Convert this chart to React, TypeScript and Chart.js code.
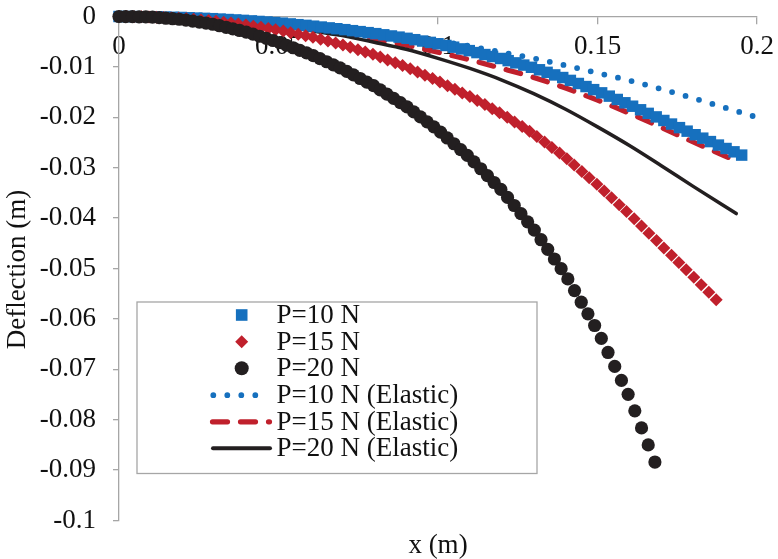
import React, { useEffect, useRef } from "react";
import { Chart, registerables } from "chart.js";

Chart.register(...registerables);

const FONT = "'Liberation Serif', 'Times New Roman', serif";
const FS = 27;

// ---------- data ----------
const seriesNames = ["P=10 N", "P=15 N", "P=20 N", "P=10 N (Elastic)", "P=15 N (Elastic)", "P=20 N (Elastic)"];
const xTickLabels = ["0", "0.05", "0.1", "0.15", "0.2"];
const yTickLabels = ["-0.1", "-0.09", "-0.08", "-0.07", "-0.06", "-0.05", "-0.04", "-0.03", "-0.02", "-0.01", "0"];
const xTitle = "x (m)";
const yTitle = "Deflection (m)";

const p10X = [0, .0024, .0049, .0073, .0098, .0122, .0146, .0171, .0195, .0220, .0244, .0268, .0293, .0317, .0342, .0366, .0390, .0415, .0439, .0464, .0488, .0512, .0537, .0561, .0586, .0610, .0634, .0659, .0683, .0708, .0732, .0756, .0781, .0805, .0830, .0854, .0878, .0903, .0927, .0952, .0976, .1000, .1025, .1049, .1074, .1098, .1122, .1147, .1171, .1196, .1220, .1244, .1269, .1293, .1318, .1342, .1366, .1391, .1415, .1440, .1464, .1488, .1513, .1537, .1562, .1586, .1610, .1635, .1659, .1684, .1708, .1732, .1757, .1781, .1806, .1830, .1854, .1879, .1903, .1928, .1952];
const p10Y = [0, -.00001, -.00002, -.00004, -.00005, -.00008, -.00012, -.00016, -.00019, -.00025,
  -.00031, -.00037, -.00043, -.00051, -.0006, -.00068, -.00077, -.00087, -.00098, -.00109,
  -.0012, -.00132, -.00147, -.00162, -.00176, -.00192, -.00209, -.00226, -.00243, -.00261,
  -.00281, -.003, -.0032, -.0034, -.00363, -.00386, -.00409, -.00433, -.0046, -.00487,
  -.00514, -.00541, -.00575, -.00609, -.00643, -.00677, -.00716, -.00755, -.00794, -.00833,
  -.00876, -.0092, -.00964, -.01008, -.01057, -.01108, -.01159, -.01211, -.01268, -.01329,
  -.0139, -.01451, -.01515, -.0158, -.01646, -.01712, -.0178, -.01851, -.01922, -.01992,
  -.02063, -.02134, -.02205, -.02275, -.02346, -.02414, -.02482, -.02551, -.02619, -.02685, -.0275];

const p15X = [0, .0023, .0047, .0070, .0094, .0117, .0140, .0164, .0187, .0211, .0234, .0257, .0281, .0304, .0328, .0351, .0374, .0398, .0421, .0445, .0468, .0491, .0515, .0538, .0562, .0585, .0608, .0632, .0655, .0679, .0702, .0725, .0749, .0772, .0796, .0819, .0842, .0866, .0889, .0913, .0936, .0959, .0983, .1006, .1030, .1053, .1076, .1100, .1123, .1147, .1170, .1193, .1217, .1240, .1264, .1287, .1310, .1334, .1357, .1381, .1404, .1427, .1451, .1474, .1498, .1521, .1544, .1568, .1591, .1615, .1638, .1661, .1685, .1708, .1732, .1755, .1778, .1802, .1825, .1849, .1872];
const p15Y = [0, -.00002, -.00005, -.00007, -.00009, -.00015, -.00022, -.00029, -.00036, -.00045,
  -.00057, -.00069, -.0008, -.00093, -.00112, -.00131, -.0015, -.00168, -.00191, -.00215,
  -.00238, -.00261, -.00289, -.0032, -.0035, -.00381, -.00413, -.00451, -.00488, -.00526,
  -.00564, -.00611, -.00658, -.00704, -.00751, -.00806, -.00862, -.00918, -.00974, -.01035,
  -.01101, -.01166, -.01232, -.01299, -.01372, -.01444, -.01517, -.01589, -.01669, -.01748,
  -.01828, -.01908, -.01997, -.02091, -.02184, -.02278, -.02379, -.02489, -.02599, -.02709,
  -.02822, -.02948, -.03074, -.03201, -.03327, -.03462, -.03598, -.03733, -.03869, -.04011,
  -.04156, -.04301, -.04446, -.04591, -.04736, -.04881, -.05026, -.05172, -.05321, -.05471, -.0562];

const p20X = [0, .0021, .0042, .0063, .0084, .0105, .0126, .0147, .0168, .0189, .0210, .0231, .0252, .0273, .0294, .0315, .0336, .0357, .0378, .0399, .0420, .0441, .0462, .0483, .0504, .0525, .0546, .0567, .0588, .0609, .0630, .0651, .0672, .0693, .0714, .0735, .0756, .0777, .0798, .0819, .0840, .0861, .0882, .0903, .0924, .0945, .0966, .0987, .1008, .1029, .1050, .1071, .1092, .1113, .1134, .1155, .1176, .1197, .1218, .1239, .1260, .1281, .1302, .1323, .1344, .1365, .1386, .1407, .1428, .1449, .1470, .1491, .1512, .1533, .1554, .1575, .1596, .1617, .1638, .1659, .1680];
const p20Y = [0, -.00002, -.00004, -.00006, -.00008, -.00013, -.00023, -.00034, -.00044, -.00055,
  -.0007, -.00091, -.00112, -.00133, -.00154, -.00183, -.00214, -.00246, -.00277, -.00309,
  -.0035, -.00392, -.00434, -.00476, -.0052, -.0057, -.0062, -.00671, -.00721, -.00776,
  -.00837, -.00898, -.00959, -.0102, -.01088, -.01159, -.0123, -.01302, -.01373, -.01456,
  -.0154, -.01624, -.01708, -.01794, -.01893, -.01992, -.0209, -.02189, -.02294, -.0241,
  -.02525, -.0264, -.02756, -.02885, -.03021, -.03158, -.03294, -.0343, -.03589, -.0375,
  -.03912, -.04074, -.04238, -.04429, -.0462, -.04812, -.05003, -.05207, -.05438, -.05669,
  -.059, -.06131, -.06388, -.06666, -.06943, -.0722, -.07497, -.07824, -.08163, -.08501, -.0884];

const el10X = [0, .01, .02, .03, .04, .05, .06, .07, .08, .09, .10, .11, .12, .13, .14, .15, .16, .17, .18, .19, .20];
const el10Y = [0, -.00005, -.0002, -.00045, -.0008, -.0012, -.0017, -.0024, -.0031, -.0039, -.0048, -.0059, -.0071, -.0083, -.0097, -.0112, -.0127, -.0144, -.0162, -.0181, -.02];

const el15X = [0, .01, .02, .03, .04, .05, .06, .07, .08, .09, .10, .11, .12, .13, .14, .15, .16, .17, .18, .19, .194];
const el15Y = [0, -.00007, -.0003, -.00065, -.0011, -.0017, -.0025, -.0034, -.0045, -.0057, -.0071, -.0086, -.0103, -.0121, -.0142, -.0166, -.0192, -.022, -.0249, -.0277, -.0288];

const el20X = [0, .01, .02, .03, .04, .05, .06, .07, .08, .09, .10, .11, .12, .13, .14, .15, .16, .17, .18, .1935];
const el20Y = [0, -.00007, -.0003, -.00068, -.0012, -.0019, -.0028, -.0038, -.0051, -.0065, -.0083, -.0103, -.0126, -.0153, -.0184, -.0219, -.0256, -.0296, -.0337, -.0391];

// ---------- styles ----------
const BLUE = "#1670BE";
const RED = "#C0202C";
const BLACK = "#231F20";
const AXIS = "#A6A6A6";
const TEXT = "#111111";

const pts = (xs: number[], ys: number[]) => xs.map((x, i) => ({ x, y: ys[i] }));

const DOT_DASH = [0, 14];
const DASH_DASH = [15, 13];

const overlayPlugin = {
  id: "overlay",
  afterDraw(chart: any) {
    const ctx = chart.ctx as CanvasRenderingContext2D;
    const a = chart.chartArea;
    ctx.save();
    ctx.fillStyle = TEXT;
    ctx.font = `${FS}px ${FONT}`;
    ctx.textAlign = "center";
    ctx.textBaseline = "middle";
    ctx.fillText(xTitle, (a.left + a.right) / 2, a.bottom + 25);
    ctx.save();
    ctx.translate(18, (a.top + a.bottom) / 2 + 1);
    ctx.rotate(-Math.PI / 2);
    ctx.fillText(yTitle, 0, 0);
    ctx.restore();

    // legend box
    const bx = a.left + 18, by = 302, bw = 400, bh = 171.5;
    ctx.fillStyle = "#FFFFFF";
    ctx.fillRect(bx, by, bw, bh);
    ctx.strokeStyle = AXIS;
    ctx.lineWidth = 1.3;
    ctx.strokeRect(bx, by, bw, bh);

    const rowY = [315, 341.7, 368.3, 395.2, 421.8, 448.3];
    const mx = 241.7;
    const tx = 276.5;
    ctx.fillStyle = BLUE;
    ctx.fillRect(mx - 5.8, rowY[0] - 5.8, 11.6, 11.6);
    ctx.fillStyle = RED;
    ctx.beginPath();
    ctx.moveTo(mx, rowY[1] - 6.5);
    ctx.lineTo(mx + 6.5, rowY[1]);
    ctx.lineTo(mx, rowY[1] + 6.5);
    ctx.lineTo(mx - 6.5, rowY[1]);
    ctx.closePath();
    ctx.fill();
    ctx.fillStyle = BLACK;
    ctx.beginPath();
    ctx.arc(mx, rowY[2], 7, 0, Math.PI * 2);
    ctx.fill();
    ctx.lineCap = "round";
    ctx.strokeStyle = BLUE;
    ctx.lineWidth = 5.8;
    ctx.setLineDash(DOT_DASH);
    ctx.beginPath();
    ctx.moveTo(213.3, rowY[3]);
    ctx.lineTo(258, rowY[3]);
    ctx.stroke();
    ctx.strokeStyle = RED;
    ctx.lineWidth = 5.2;
    ctx.setLineDash(DASH_DASH);
    ctx.beginPath();
    ctx.moveTo(212.5, rowY[4]);
    ctx.lineTo(269.5, rowY[4]);
    ctx.stroke();
    ctx.setLineDash([]);
    ctx.strokeStyle = BLACK;
    ctx.lineWidth = 4;
    ctx.beginPath();
    ctx.moveTo(213, rowY[5]);
    ctx.lineTo(270, rowY[5]);
    ctx.stroke();

    ctx.fillStyle = TEXT;
    ctx.font = `${FS}px ${FONT}`;
    ctx.textAlign = "left";
    ctx.textBaseline = "middle";
    seriesNames.forEach((n, i) => ctx.fillText(n, tx, rowY[i] + 1));
    ctx.restore();
  },
};

export default function App() {
  const ref = useRef<HTMLCanvasElement>(null);
  useEffect(() => {
    if (!ref.current) return;
    const lineBase = { showLine: true, pointRadius: 0, pointHoverRadius: 0, fill: false, cubicInterpolationMode: "monotone" as const, borderCapStyle: "round" as const, clip: false as any };
    const chart = new Chart(ref.current, {
      type: "scatter",
      data: {
        datasets: [
          { label: seriesNames[2], data: pts(p20X, p20Y), pointStyle: "circle", pointRadius: 6.6, pointBorderWidth: 0, backgroundColor: BLACK, borderColor: BLACK, showLine: false, clip: false as any },
          { label: seriesNames[1], data: pts(p15X, p15Y), pointStyle: "rectRot", pointRadius: 6.5, pointBorderWidth: 0, backgroundColor: RED, borderColor: RED, showLine: false, clip: false as any },
          { label: seriesNames[0], data: pts(p10X, p10Y), pointStyle: "rect", pointRadius: 8.1, pointBorderWidth: 0, backgroundColor: BLUE, borderColor: BLUE, showLine: false, clip: false as any },
          { ...lineBase, label: seriesNames[5], data: pts(el20X, el20Y), borderColor: BLACK, borderWidth: 3.5 },
          { ...lineBase, label: seriesNames[4], data: pts(el15X, el15Y), borderColor: RED, borderWidth: 5.2, borderDash: DASH_DASH },
          { ...lineBase, label: seriesNames[3], data: pts(el10X, el10Y), borderColor: BLUE, borderWidth: 5.8, borderDash: DOT_DASH },
        ],
      },
      options: {
        animation: false,
        responsive: false,
        events: [],
        layout: { padding: { left: 0, right: 21, top: 16.5, bottom: 38.5 } },
        plugins: { legend: { display: false }, tooltip: { enabled: false }, title: { display: false } },
        scales: {
          x: {
            type: "linear",
            position: { y: 0 } as any,
            min: 0,
            max: 0.2,
            afterFit: (s: any) => { s.paddingLeft = 0; s.paddingRight = 0; s.paddingTop = 0; s.paddingBottom = 0; },
            grid: { drawOnChartArea: false, drawTicks: true, tickLength: 7, color: AXIS, lineWidth: 1.3 },
            border: { color: AXIS, width: 1.3 },
            ticks: {
              stepSize: 0.05,
              autoSkip: false,
              maxRotation: 0,
              padding: 7,
              color: TEXT,
              font: { family: FONT, size: FS },
              callback: (_v: any, i: number) => xTickLabels[i],
            },
          },
          y: {
            type: "linear",
            position: "left",
            min: -0.1,
            max: 0,
            afterFit: (s: any) => { s.width = 119; s.paddingTop = 0; s.paddingBottom = 0; },
            grid: { drawOnChartArea: false, drawTicks: true, tickLength: 6, color: AXIS, lineWidth: 1.3 },
            border: { color: AXIS, width: 1.3 },
            ticks: {
              stepSize: 0.01,
              autoSkip: false,
              padding: 17,
              color: TEXT,
              font: { family: FONT, size: FS },
              callback: (_v: any, i: number) => yTickLabels[i],
            },
          },
        },
      },
      plugins: [overlayPlugin],
    });
    return () => chart.destroy();
  }, []);
  return (
    <div style={{ position: "absolute", left: 0, top: 0, width: 778, height: 559, background: "#fff" }}>
      <canvas ref={ref} width={778} height={559} style={{ width: 778, height: 559, display: "block" }} />
    </div>
  );
}
